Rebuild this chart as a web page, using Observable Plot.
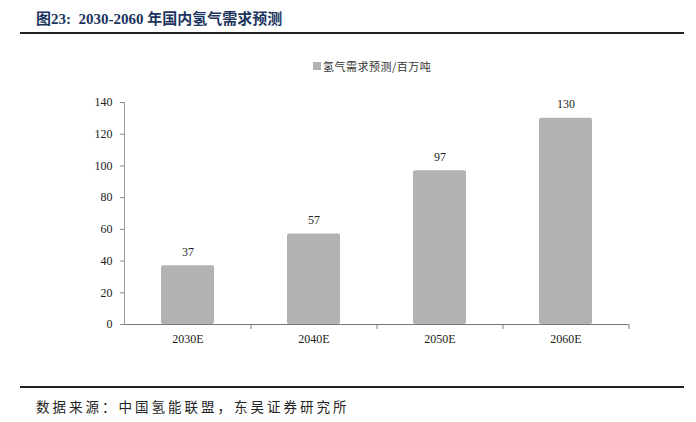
<!DOCTYPE html>
<html><head><meta charset="utf-8">
<script src="https://cdn.jsdelivr.net/npm/d3@7"></script>
<script src="https://cdn.jsdelivr.net/npm/@observablehq/plot@0.6"></script>
<style>
body{margin:0;background:#fff;}
#wrap{position:relative;width:696px;height:422px;overflow:hidden;}
.title{position:absolute;left:36px;top:7px;font-family:"Liberation Serif","Noto Sans CJK SC";font-weight:bold;font-size:15px;color:#1c355e;}
.rule{position:absolute;left:20px;width:664px;height:2px;background:#222;}
.legend{position:absolute;left:313px;top:58px;font-family:"Noto Sans CJK SC";font-size:11px;color:#333;display:flex;align-items:center;letter-spacing:0.5px;}
.legend span.sw{display:inline-block;width:8px;height:8px;background:#b2b2b2;margin-right:2px;}
.foot{position:absolute;left:36px;top:396px;font-family:"Noto Sans CJK SC";font-size:13.5px;color:#222;letter-spacing:3px;}
#plot{position:absolute;left:0;top:80px;}
</style></head>
<body><div id="wrap">
<div class="title">图23:&nbsp; 2030-2060 年国内氢气需求预测</div>
<div class="rule" style="top:32px"></div>
<div class="legend"><span class="sw"></span>氢气需求预测/百万吨</div>
<div id="plot"></div>
<div class="rule" style="top:386px"></div>
<div class="foot">数据来源：中国氢能联盟，东吴证券研究所</div>
</div>
<script>
const categories = ["2030E","2040E","2050E","2060E"];
const demand = [37, 57, 97, 130];
const yTicks = [0,20,40,60,80,100,120,140];
const data = categories.map((c,i)=>({cat:c, v:demand[i]}));
const W = 696, ML = 124, MR = 68;
const step = (W - ML - MR) / categories.length;
const chart = Plot.plot({
  width:W, height:300,
  marginTop:22, marginBottom:56, marginLeft:ML, marginRight:MR,
  style:{fontFamily:"Liberation Serif", fontSize:"12px", color:"#222", background:"transparent"},
  x:{domain:categories, paddingInner:0.58, paddingOuter:0.29, label:null},
  y:{domain:[0,140], ticks:yTicks, label:null},
  marks:[
    Plot.barY(data,{x:"cat", y:"v", fill:"#b2b2b2", rx:2}),
    Plot.text(data,{x:"cat", y:"v", text:d=>String(d.v), dy:-14, fontSize:12, fill:"#222"}),
    Plot.frame({anchor:"left", stroke:"#999"}),
    Plot.axisY({ticks:yTicks, tickSize:4, tickPadding:8, stroke:"#888", fontSize:12}),
    Plot.axisX({tickSize:0, tickPadding:10, fontSize:12}),
    Plot.ruleX(categories,{x:d=>d, y1:0, y2:0, dx:step/2, insetBottom:-5, stroke:"#777"}),
    Plot.ruleY([0],{stroke:"#777", strokeWidth:1})
  ]
});
document.getElementById("plot").appendChild(chart);
</script>
</body></html>
